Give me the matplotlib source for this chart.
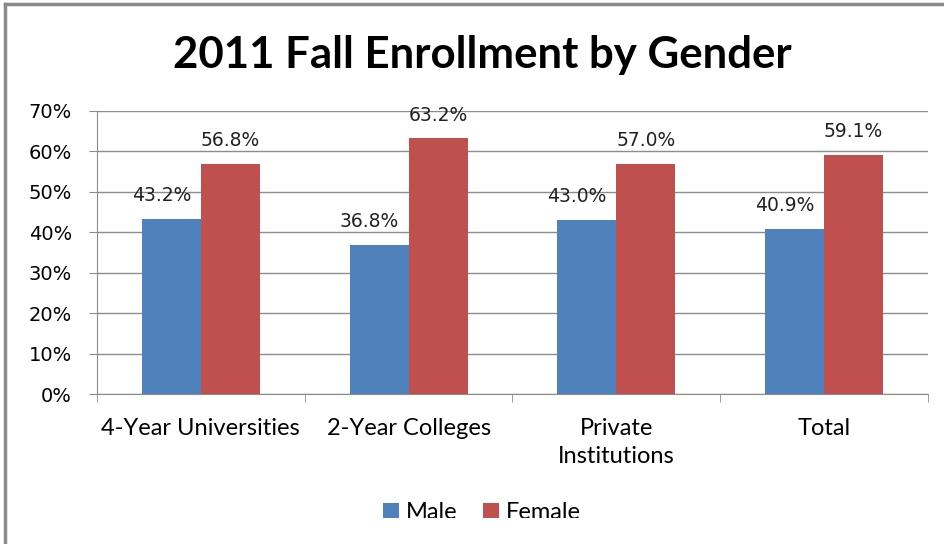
import matplotlib.pyplot as plt
import numpy as np
from matplotlib.lines import Line2D
from matplotlib.patches import Rectangle

categories = ['4-Year Universities', '2-Year Colleges', 'Private\nInstitutions', 'Total']
male = [43.2, 36.8, 43.0, 40.9]
female = [56.8, 63.2, 57.0, 59.1]
yticks = [0, 10, 20, 30, 40, 50, 60, 70]

blue = '#4F81BD'
red = '#C0504D'
grid_col = '#8C8C8C'
ui_font = 'Lato'

fig = plt.figure(figsize=(9.45, 5.44), dpi=100)
ax = fig.add_axes([0.1026, 0.2757, 0.8794, 0.5203])

x = np.arange(len(categories))
w = 0.284
b1 = ax.bar(x - w / 2, male, w, color=blue, label='Male', zorder=3)
b2 = ax.bar(x + w / 2, female, w, color=red, label='Female', zorder=3)

# Excel puts the male labels a bit left of the bar centre
for bars, vals, dx in ((b1, male, -7), (b2, female, 0)):
    for rect, v in zip(bars, vals):
        ax.annotate(f'{v:.1f}%', (rect.get_x() + rect.get_width() / 2, v),
                    xytext=(dx, 10), textcoords='offset points',
                    ha='center', va='bottom', fontsize=13.5,
                    family='DejaVu Sans', color='#222222')

ax.set_xlim(-0.5, len(categories) - 0.5)
ax.set_ylim(0, 70)
ax.set_yticks(yticks)
ax.set_yticklabels([f'{t}%' for t in yticks], fontsize=14, family='DejaVu Sans')
ax.yaxis.grid(True, color=grid_col, linewidth=1, zorder=0)
ax.tick_params(axis='y', length=6, color=grid_col, pad=12)

ax.set_xticks(x)
ax.set_xticklabels(categories, fontsize=17, family=ui_font, linespacing=1.45)
ax.set_xticks(np.arange(len(categories) + 1) - 0.5, minor=True)
ax.tick_params(axis='x', which='major', length=0, pad=17)
ax.tick_params(axis='x', which='minor', length=6, color=grid_col)

for s in ('top', 'right'):
    ax.spines[s].set_visible(False)
for s in ('left', 'bottom'):
    ax.spines[s].set_color(grid_col)

fig.text(0.51, 0.899, '2011 Fall Enrollment by Gender', ha='center', va='center',
         fontsize=31.5, fontweight='bold', family=ui_font)

fig.legend(handles=[b1, b2], labels=['Male', 'Female'], loc='center',
           bbox_to_anchor=(0.51, 0.057), ncol=2, frameon=False,
           prop={'family': ui_font, 'size': 17},
           handlelength=0.65, handleheight=0.65, handletextpad=0.3, columnspacing=1.1)

# screenshot cut-off below the legend and the outer chart frame
fig.patches.append(Rectangle((0.01, 0), 0.99, 26 / 544, transform=fig.transFigure,
                             facecolor='white', edgecolor='none', zorder=10))
fig.lines.append(Line2D([5 / 945, 5 / 945], [0, 1 - 4 / 544], transform=fig.transFigure,
                        color='#8A8A8A', linewidth=2.5, zorder=11))
fig.lines.append(Line2D([5 / 945, 1], [1 - 4 / 544, 1 - 4 / 544], transform=fig.transFigure,
                        color='#8A8A8A', linewidth=2.5, zorder=11))

fig.savefig('out.png', dpi=100)
